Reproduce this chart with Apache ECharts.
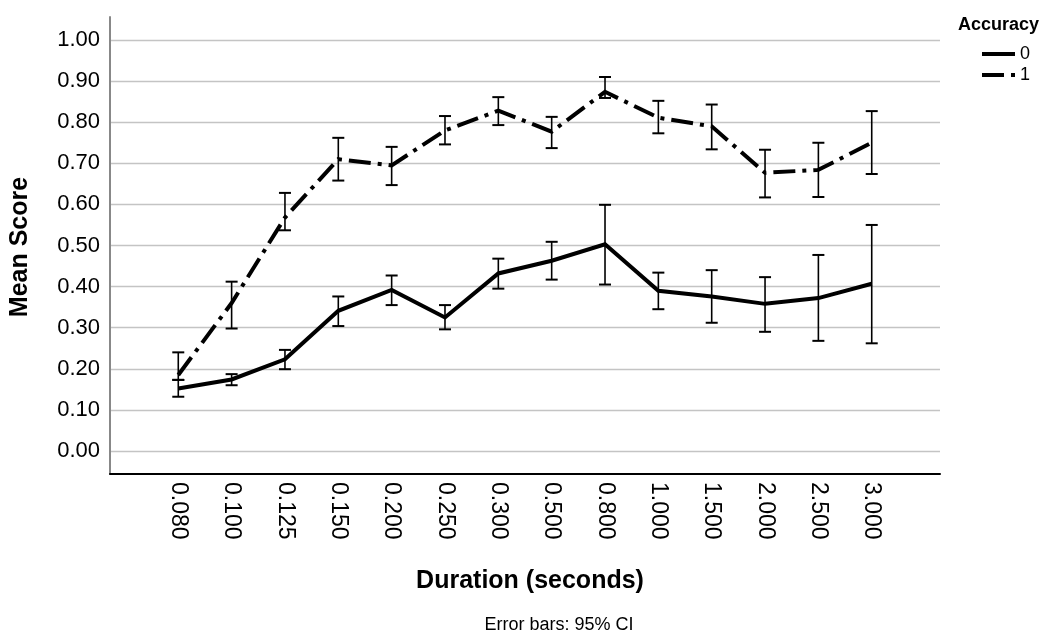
<!DOCTYPE html>
<html>
<head>
<meta charset="utf-8">
<script src="https://cdn.jsdelivr.net/npm/echarts@6/dist/echarts.min.js"></script>
<style>
html,body{margin:0;padding:0;background:#fff;}
#chart{width:1048px;height:637px;}
</style>
</head>
<body>
<div id="chart"></div>
<script>
// ---- data ----
const categories = ['0.080','0.100','0.125','0.150','0.200','0.250','0.300','0.500','0.800','1.000','1.500','2.000','2.500','3.000'];
const yTicks = [0,0.1,0.2,0.3,0.4,0.5,0.6,0.7,0.8,0.9,1.0];
const seriesNames = ['0','1'];
const acc0Mean = [0.152,0.174,0.223,0.341,0.392,0.325,0.432,0.463,0.503,0.390,0.376,0.358,0.372,0.407];
const acc0Lo   = [0.132,0.160,0.199,0.304,0.355,0.296,0.395,0.417,0.405,0.345,0.312,0.290,0.268,0.262];
const acc0Hi   = [0.173,0.187,0.246,0.376,0.427,0.355,0.468,0.509,0.599,0.434,0.440,0.423,0.477,0.550];
const acc1Mean = [0.185,0.360,0.568,0.710,0.695,0.780,0.828,0.777,0.874,0.811,0.790,0.677,0.684,0.750];
const acc1Lo   = [0.173,0.298,0.537,0.658,0.647,0.746,0.793,0.737,0.859,0.773,0.734,0.617,0.618,0.674];
const acc1Hi   = [0.240,0.412,0.628,0.762,0.740,0.815,0.861,0.813,0.910,0.852,0.843,0.733,0.750,0.827];

const FONT = 'Liberation Sans, Arial, Helvetica, sans-serif';
const catIdx = categories.map((c,i)=>i);

function lineData(vals){ return vals.map((v,i)=>[i,v]); }
function errData(lo,hi){ return lo.map((l,i)=>[i,l,hi[i]]); }

function renderErr(params, api){
  const x = api.value(0);
  const p1 = api.coord([x, api.value(1)]);
  const p2 = api.coord([x, api.value(2)]);
  const hw = 6;
  const st = {stroke:'#000', lineWidth:1.6};
  return {type:'group', children:[
    {type:'line', shape:{x1:p1[0],y1:p1[1],x2:p2[0],y2:p2[1]}, style:st},
    {type:'line', shape:{x1:p1[0]-hw,y1:p1[1],x2:p1[0]+hw,y2:p1[1]}, style:{stroke:'#000',lineWidth:2}},
    {type:'line', shape:{x1:p2[0]-hw,y1:p2[1],x2:p2[0]+hw,y2:p2[1]}, style:{stroke:'#000',lineWidth:2}}
  ]};
}

const chart = echarts.init(document.getElementById('chart'), null, {renderer:'canvas'});
chart.setOption({
  animation:false,
  backgroundColor:'#fff',
  textStyle:{fontFamily:FONT},
  title:[
    {text:'Accuracy', right:4, top:11, textStyle:{fontFamily:FONT,fontSize:18,fontWeight:'bold',color:'#000'}},
    {text:'Duration (seconds)', left:525, top:564, textAlign:'center', textStyle:{fontFamily:FONT,fontSize:25,fontWeight:'bold',color:'#000'}},
    {text:'Error bars: 95% CI', left:554, top:611, textAlign:'center', textStyle:{fontFamily:FONT,fontSize:18,fontWeight:'normal',color:'#000'}}
  ],
  graphic:[
    {type:'text', x:20, y:247, rotation:Math.PI/2, style:{text:'Mean Score', font:'bold 25px '+FONT, fill:'#000', textAlign:'center', textVerticalAlign:'middle'}}
  ],
  legend:{
    data:seriesNames,
    orient:'vertical',
    left:975, top:40,
    itemWidth:33, itemHeight:17, itemGap:3,
    itemStyle:{opacity:0},
    lineStyle:{width:4, color:'#000', cap:'butt'},
    textStyle:{fontFamily:FONT,fontSize:18,color:'#000'}
  },
  grid:{left:110, right:108, top:17, bottom:163, containLabel:false},
  xAxis:{
    type:'value', min:-1.28, max:14.28,
    axisLine:{show:true, onZero:false, lineStyle:{color:'#000', width:2}},
    axisTick:{show:false, customValues:catIdx},
    splitLine:{show:false},
    axisLabel:{customValues:catIdx, rotate:-90, margin:8, fontSize:23, color:'#000', fontFamily:FONT,
      formatter:function(v){ return categories[Math.round(v)]; }}
  },
  yAxis:{
    type:'value', min:-0.056, max:1.056,
    axisLine:{show:true, onZero:false, lineStyle:{color:'#888', width:2}},
    axisTick:{show:false, customValues:yTicks},
    splitLine:{show:true, lineStyle:{color:'#c4c4c4', width:1.3}},
    axisLabel:{customValues:yTicks, margin:10, fontSize:22, color:'#000', fontFamily:FONT,
      formatter:function(v){ return v.toFixed(2); }}
  },
  series:[
    {name:seriesNames[0], type:'line', data:lineData(acc0Mean), symbol:'none', showSymbol:false,
     lineStyle:{color:'#000', width:4, cap:'butt', join:'miter'}, itemStyle:{color:'#000'}, z:3},
    {name:seriesNames[1], type:'line', data:lineData(acc1Mean), symbol:'none', showSymbol:false,
     lineStyle:{color:'#000', width:4, type:[22,7,4,7], cap:'butt', join:'miter'}, itemStyle:{color:'#000'}, z:3},
    {name:'err0', type:'custom', data:errData(acc0Lo,acc0Hi), renderItem:renderErr, z:4, silent:true},
    {name:'err1', type:'custom', data:errData(acc1Lo,acc1Hi), renderItem:renderErr, z:4, silent:true}
  ]
});
</script>
</body>
</html>
